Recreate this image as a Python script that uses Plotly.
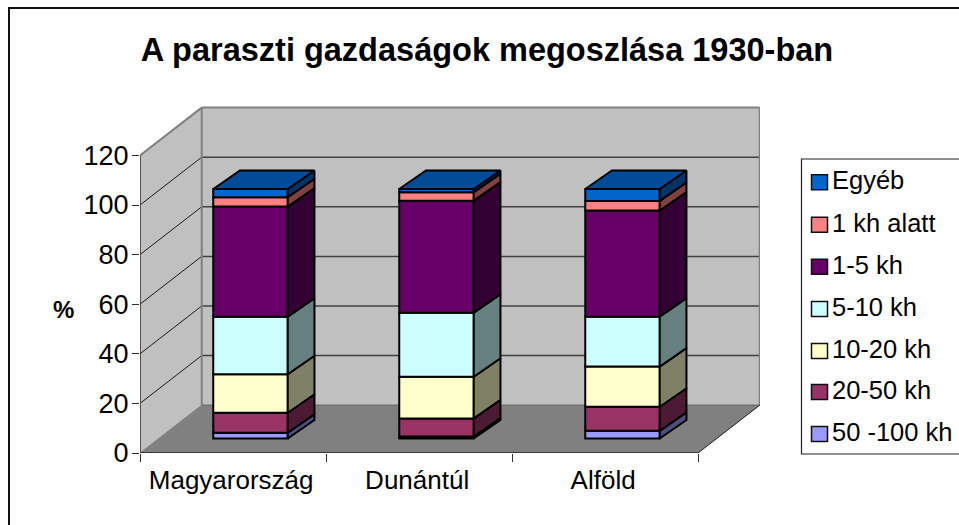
import plotly.graph_objects as go
import numpy as np

categories = ["Magyarország", "Dunántúl", "Alföld"]
series_names = ["50 -100 kh", "20-50 kh", "10-20 kh", "5-10 kh", "1-5 kh", "1 kh alatt", "Egyéb"]
v_50_100 = [2.3, 0.8, 3.1]
v_20_50 = [8.1, 7.3, 9.7]
v_10_20 = [15.5, 16.8, 16.2]
v_5_10 = [23.2, 25.8, 20.1]
v_1_5 = [44.4, 45.2, 42.8]
v_1_alatt = [3.8, 3.4, 3.9]
v_egyeb = [3.3, 1.3, 4.8]
y_ticks = [0, 20, 40, 60, 80, 100, 120]
title = "A paraszti gazdaságok megoszlása 1930-ban"

values = [v_50_100, v_20_50, v_10_20, v_5_10, v_1_5, v_1_alatt, v_egyeb]
front = ["#9999FF", "#993366", "#FFFFCC", "#CCFFFF", "#660066", "#FF8080", "#0066CC"]
side = ["#4D4D80", "#4D1A33", "#808066", "#668080", "#330033", "#804040", "#003366"]
top_face = "#004C99"

FONT = "Liberation Sans"
W, H = 959, 525
L, T, R, B = 140, 104, 760, 453
ux, uy = 186.0, 2.48          # px per category, px per percent
x0 = -0.5
x_range = [x0, x0 + (R - L) / ux]
y_range = [0, (B - T) / uy]
wdx, wdy = 61.7 / ux, 47.8 / uy      # wall depth
bar_w = 74.5 / ux
bar_off = 17.5 / ux
bar_base = 14.5 / uy
bdx, bdy = 26.7 / ux, 18.5 / uy      # bar depth
xmax = len(categories) - 0.5


def px(x):
    return (x - L) / (R - L)


def py(y):
    return (B - y) / (B - T)


def poly(pts, fill, line=None, width=0):
    path = "M " + " L ".join(f"{a},{b}" for a, b in pts) + " Z"
    return dict(type="path", xref="x", yref="y", path=path, fillcolor=fill, layer="below",
                line=dict(color=line or fill, width=width))


def seg(a, b, color, width):
    return dict(type="line", xref="x", yref="y", x0=a[0], y0=a[1], x1=b[0], y1=b[1], layer="below",
                line=dict(color=color, width=width))


shapes = [
    poly([(x0, 0), (x0 + wdx, wdy), (x0 + wdx, 120 + wdy), (x0, 120)], "#C0C0C0"),
    poly([(x0 + wdx, wdy), (xmax + wdx, wdy), (xmax + wdx, 120 + wdy), (x0 + wdx, 120 + wdy)], "#C0C0C0"),
    poly([(x0, 0), (xmax, 0), (xmax + wdx, wdy), (x0 + wdx, wdy)], "#808080"),
]
for t in y_ticks[1:-1]:
    shapes.append(seg((x0, t), (x0 + wdx, t + wdy), "#1a1a1a", 1))
    shapes.append(seg((x0 + wdx, t + wdy), (xmax + wdx, t + wdy), "#404040", 1.5))
shapes += [
    seg((x0, 120), (x0 + wdx, 120 + wdy), "#808080", 2),
    seg((x0 + wdx, 120 + wdy), (xmax + wdx, 120 + wdy), "#808080", 2),
    seg((xmax + wdx, 120 + wdy), (xmax + wdx, wdy), "#808080", 2),
    seg((x0 + wdx, wdy), (x0 + wdx, 120 + wdy), "#808080", 2),
    seg((x0 + wdx, wdy), (xmax + wdx, wdy), "#707070", 1.5),
    seg((x0, 0), (x0 + wdx, wdy), "#808080", 1),
    seg((xmax, 0), (xmax + wdx, wdy), "#202020", 1),
    seg((x0, 0), (xmax, 0), "#202020", 1.5),
    seg((x0, 0), (x0, 120), "#303030", 1.5),
]

# outer frame (right and bottom edges fall outside the page)
shapes.append(dict(type="rect", xref="paper", yref="paper", x0=px(9), x1=px(W + 20), y0=py(H + 20), y1=py(8),
                   line=dict(color="#111111", width=2), fillcolor="rgba(0,0,0,0)", layer="below"))
# legend box
shapes.append(dict(type="rect", xref="paper", yref="paper", x0=px(801.5), x1=px(W + 20), y0=py(454), y1=py(159),
                   line=dict(color="#222222", width=1.2), fillcolor="white", layer="below"))

annotations = [dict(xref="paper", yref="paper", x=px(76), xanchor="right", y=py(309), text="<b>%</b>",
                    showarrow=False, font=dict(family=FONT, size=24, color="black"))]
legend_y = [434, 392, 351, 309, 266.7, 224.7, 182.3]
for name, col, yy in zip(series_names, front, legend_y):
    shapes.append(dict(type="rect", xref="paper", yref="paper", x0=px(811.5), x1=px(827.5),
                       y0=py(yy + 7.5), y1=py(yy - 7.5), fillcolor=col, line=dict(color="#111111", width=1.5)))
    annotations.append(dict(xref="paper", yref="paper", x=px(830), y=py(yy - 2), text=name, showarrow=False,
                            xanchor="left", yanchor="middle", font=dict(family=FONT, size=25.5, color="black")))

fig = go.Figure()
x_front = np.arange(len(categories)) + bar_off
base = np.full(len(categories), bar_base)
for name, vals, fc, sc in zip(series_names, values, front, side):
    vals = np.array(vals)
    fig.add_trace(go.Bar(x=x_front, y=vals, base=base, width=bar_w, name=name, showlegend=False,
                         marker=dict(color=fc, line=dict(color="black", width=2)), hoverinfo="name+y"))
    xs, ys = [], []
    for xf, b, v in zip(x_front, base, vals):
        r = xf + bar_w / 2
        xs += [r, r + bdx, r + bdx, r, r, None]
        ys += [b, b + bdy, b + v + bdy, b + v, b, None]
    fig.add_trace(go.Scatter(x=xs, y=ys, mode="lines", fill="toself", fillcolor=sc, showlegend=False,
                             line=dict(color="black", width=2), hoverinfo="skip"))
    base = base + vals

xs, ys = [], []
for xf, b in zip(x_front, base):
    l, r = xf - bar_w / 2, xf + bar_w / 2
    xs += [l, r, r + bdx, l + bdx, l, None]
    ys += [b, b, b + bdy, b + bdy, b, None]
fig.add_trace(go.Scatter(x=xs, y=ys, mode="lines", fill="toself", fillcolor=top_face, showlegend=False,
                         line=dict(color="black", width=2), hoverinfo="skip"))

fig.update_layout(
    width=W, height=H, margin=dict(l=L, r=W - R, t=T, b=H - B, autoexpand=False),
    paper_bgcolor="white", plot_bgcolor="rgba(0,0,0,0)", barmode="overlay", showlegend=False,
    title=dict(text=f"<b>{title}</b>", x=487 / W, xanchor="center", y=1 - 50 / H, yanchor="middle",
               font=dict(family=FONT, size=32.5, color="black")),
    shapes=shapes, annotations=annotations,
    xaxis=dict(range=x_range, showgrid=False, zeroline=False, showline=False,
               tickmode="array", tickvals=[i - 0.01 for i in range(len(categories))], ticktext=categories,
               ticks="outside", ticklen=8, tickcolor="rgba(0,0,0,0)", ticklabelstandoff=-4,
               tickfont=dict(family=FONT, size=26, color="black"),
               minor=dict(tickmode="array", tickvals=[i - 0.5 for i in range(len(categories) + 1)],
                          ticks="outside", ticklen=8, tickcolor="#303030", tickwidth=1, showgrid=False)),
    yaxis=dict(range=y_range, showgrid=False, zeroline=False, showline=False,
               tickmode="array", tickvals=y_ticks, ticks="outside", ticklen=7, tickcolor="#303030", tickwidth=1,
               ticklabelstandoff=-2, tickfont=dict(family=FONT, size=27, color="black")),
)
fig.write_html("out.html", post_script="document.body.style.margin=0;", config=dict(displayModeBar=False))
